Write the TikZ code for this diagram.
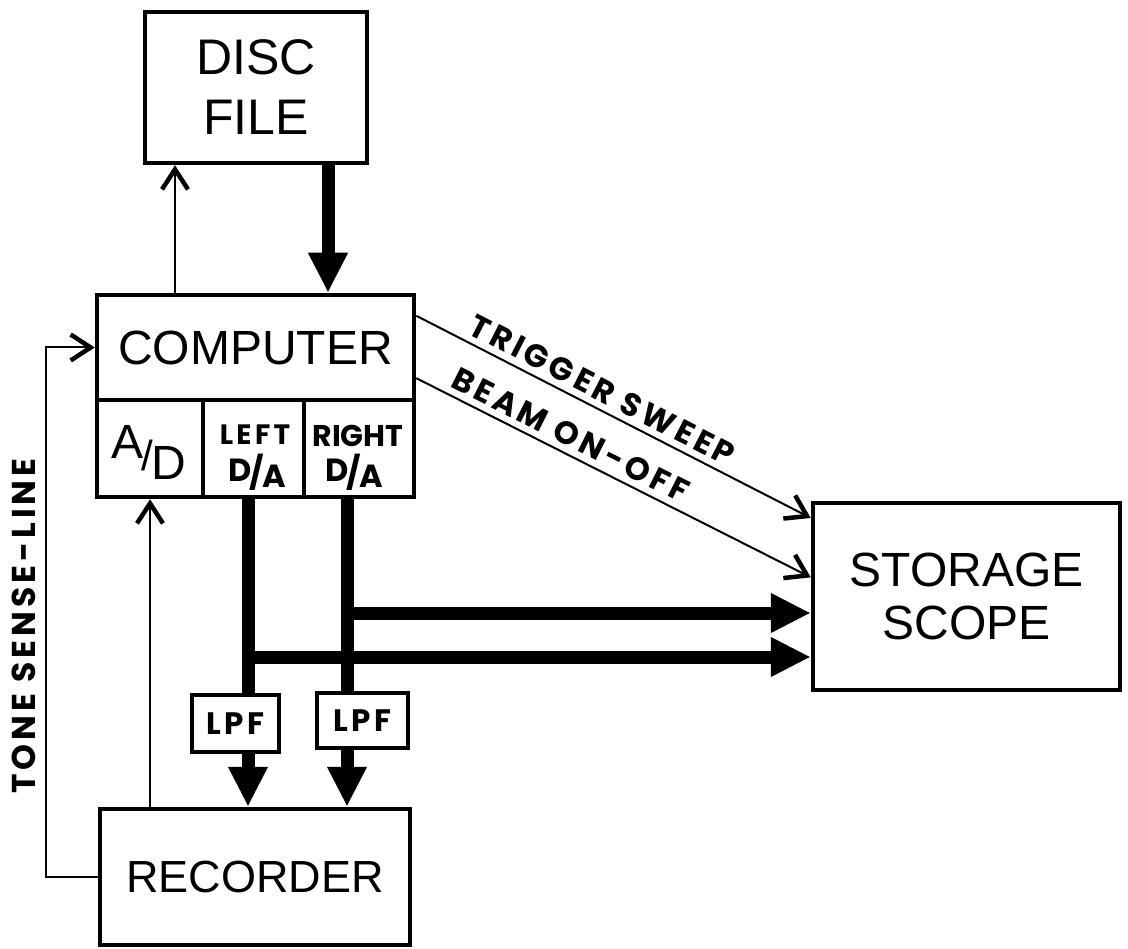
\documentclass[tikz,border=0pt]{standalone}
\usepackage{fontspec}
\setmainfont{Liberation Sans}
\newfontfamily\boldlab[LetterSpace=12]{Poppins}
\usetikzlibrary{arrows.meta,calc}
\tikzset{
  box/.style={draw, line width=4.5pt, rectangle, inner sep=0pt, align=center,
    font=\fontsize{48}{58}\selectfont},
  bl/.style={font=\fontsize{32}{36}\selectfont\boldlab\bfseries},
  thinline/.style={line width=2pt},
  thickline/.style={line width=13pt},
  barb/.style={-{Straight Barb[length=20pt,width=26pt,line width=4.5pt]}},
  fat/.style={-{Triangle[length=40pt,width=37pt]}},
}
\begin{document}
\begin{tikzpicture}[x=1pt,y=-1pt]
\useasboundingbox (0,0) rectangle (1128,949);
% boxes
\node[box, minimum width=222pt, minimum height=151pt, font=\fontsize{50}{60}\selectfont] (disc) at (256,87.5) {DISC\\FILE};
\node[box, minimum width=317pt, minimum height=105pt] (comp) at (255.5,347.5) {\raisebox{-4pt}{COMPUTER}};
\node[box, minimum width=106pt, minimum height=97pt] (ad) at (150,448.5) {};
\node[box, minimum width=101pt, minimum height=97pt] (dal) at (253.5,448.5) {};
\node[box, minimum width=110pt, minimum height=97pt] (dar) at (359,448.5) {};
\node[box, minimum width=310pt, minimum height=136pt, font=\fontsize{45}{50}\selectfont] (rec) at (255,877) {RECORDER};
\node[box, minimum width=307pt, minimum height=187pt, font=\fontsize{48}{53}\selectfont] (scope) at (966.5,596.5) {STORAGE\\SCOPE};
\node[box, line width=4pt, minimum width=87pt, minimum height=57pt, bl, font=\fontsize{31}{34}\selectfont\boldlab\bfseries] (lpfl) at (235.5,723.5) {LPF};
\node[box, line width=4pt, minimum width=91pt, minimum height=55pt, bl, font=\fontsize{31}{34}\selectfont\boldlab\bfseries] (lpfr) at (362.5,720.5) {LPF};
% cell texts
\node[font=\fontsize{48}{48}\selectfont, inner sep=0pt] (adt) at (149,452)
  {\raisebox{9pt}{A}\kern-2pt\raisebox{-3pt}{\fontsize{42}{42}\selectfont/}\kern-2pt\raisebox{-12pt}{D}};
\node[inner sep=0pt, font=\fontsize{28}{30}\selectfont\boldlab\bfseries] (lt) at (255,435) {LEFT};
\node[inner sep=0pt, font=\fontsize{32}{34}\selectfont\boldlab\bfseries\addfontfeature{LetterSpace=0}] (lda) at (257,472) {\raisebox{3pt}{D}\kern-2pt/\kern-2pt\raisebox{-3pt}{A}};
\node[inner sep=0pt, font=\fontsize{30}{32}\selectfont\boldlab\bfseries\addfontfeature{LetterSpace=0}] (rt) at (358,436) {RIGHT};
\node[inner sep=0pt, font=\fontsize{32}{34}\selectfont\boldlab\bfseries\addfontfeature{LetterSpace=0}] (rda) at (354,472) {\raisebox{3pt}{D}\kern-2pt/\kern-2pt\raisebox{-3pt}{A}};
% helper coordinates
\coordinate (xa) at (175,0);
\coordinate (xb) at (328,0);
\coordinate (tl) at (46,0);
\coordinate (jR) at (347,613);
\coordinate (jL) at (248,657);
% disc <-> computer
\draw[thinline, barb] (comp.north -| xa) -- (disc.south -| xa);
\draw[thickline, fat] (disc.south -| xb) -- (comp.north -| xb);
% tone sense line
\draw[thinline, barb] (rec.west) -- (rec.west -| tl) -- (comp.west -| tl) -- (comp.west);
\node[bl, rotate=90, font=\fontsize{33}{36}\selectfont\boldlab\bfseries] (tone) at (24,626) {TONE SENSE-LINE};
% recorder -> A/D
\draw[thinline, barb] (rec.north -| ad.south) -- (ad.south);
% D/A lines
\draw[thickline] (dal.south -| jL) -- (lpfl.north -| jL);
\draw[thickline] (dar.south -| jR) -- (lpfr.north -| jR);
\draw[thickline, fat] (jR) -- (scope.west |- jR);
\draw[thickline, fat] (jL) -- (scope.west |- jL);
\draw[thickline, fat] (lpfl.south -| jL) -- (rec.north -| jL);
\draw[thickline, fat] (lpfr.south -| jR) -- (rec.north -| jR);
% diagonal signals
\draw[thinline, barb] ($(comp.north east)!0.21!(comp.south east)$) -- ($(scope.north west)!0.09!(scope.south west)$)
  node[bl, pos=0.45, sloped, above=3pt] (trig) {TRIGGER SWEEP};
\draw[thinline, barb] ($(comp.north east)!0.78!(comp.south east)$) -- ($(scope.north west)!0.40!(scope.south west)$)
  node[bl, pos=0.37, sloped, above=3pt] (beam) {BEAM ON-OFF};
\end{tikzpicture}
\end{document}
